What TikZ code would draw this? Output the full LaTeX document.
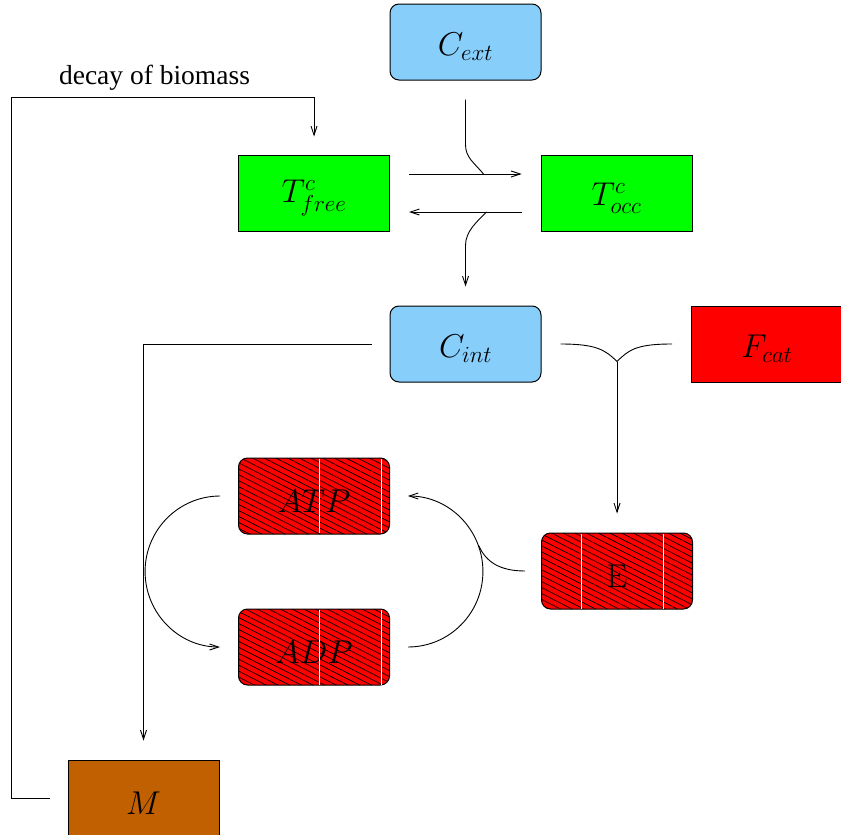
\RequirePackage{fix-cm}
\documentclass[tikz,border=0pt]{standalone}
\usepackage[no-math]{fontspec}
\newfontfamily\labelfont{Liberation Serif}
\usetikzlibrary{calc,patterns.meta,arrows.meta}
\definecolor{cblue}{HTML}{87CEFA}
\definecolor{mbrown}{HTML}{C06000}
\newcommand{\lowtext}[1]{\raisebox{-5pt}[\height][\depth]{#1}}
\begin{document}
\begin{tikzpicture}[x=1pt,y=-1pt,
 box/.style={draw=black,line width=1pt,minimum width=151pt,minimum height=76pt,inner sep=0pt,font=\fontsize{33}{39}\selectfont},
 rbox/.style={box,rounded corners=9pt},
 bluebox/.style={rbox,fill=cblue},
 greenbox/.style={box,fill=green},
 redbox/.style={box,fill=red},
 mbox/.style={box,fill=mbrown},
 hatchbox/.style={rbox,preaction={fill=red},pattern={Lines[angle=-27,distance=5.3pt,line width=0.7pt]},pattern color=black},
 conn/.style={line width=0.9pt,draw=black},
 arr/.style={conn,-{Straight Barb[length=9pt,width=6pt]}},
 seam/.style={draw=white,line width=0.8pt}
]
\useasboundingbox (0,0) rectangle (841,835);

% nodes
\node[bluebox] (cext) at (465.5,42) {\lowtext{$C_{ext}$}};
\node[greenbox] (tfree) at (314,193) {\lowtext{$T^c_{free}$}};
\node[greenbox] (tocc) at (616.5,193) {\lowtext{$T^c_{occ}$}};
\node[bluebox] (cint) at (465.5,344) {\lowtext{$C_{int}$}};
\node[redbox] (fcat) at (767,344) {\lowtext{$F_{cat}$}};
\node[hatchbox] (atp) at (314,496) {\lowtext{$ATP$}};
\node[hatchbox] (e) at (617,571) {\lowtext{$\mathrm{E}$}};
\node[hatchbox] (adp) at (314,647) {\lowtext{$ADP$}};
\node[mbox] (m) at (143.5,798) {\lowtext{$M$}};
\node[font=\labelfont\fontsize{27.5}{33}\selectfont,anchor=base,inner sep=0pt] (decay) at (154.5,84) {decay of biomass};

% seams in the hatching
\draw[seam] ($(atp.north west)+(81,1)$) -- ($(atp.south west)+(81,-1)$);
\draw[seam] ($(atp.north west)+(143,1)$) -- ($(atp.south west)+(143,-1)$);
\draw[seam] ($(adp.north west)+(81,1)$) -- ($(adp.south west)+(81,-1)$);
\draw[seam] ($(adp.north west)+(143,1)$) -- ($(adp.south west)+(143,-1)$);
\draw[seam] ($(e.north west)+(40,1)$) -- ($(e.south west)+(40,-1)$);
\draw[seam] ($(e.north west)+(122,1)$) -- ($(e.south west)+(122,-1)$);

% transporter
\coordinate (c1) at ($(cext.south)+(0,19)$);
\coordinate (j1) at ($(tocc.west)+(-57,-19)$);
\coordinate (j2) at ($(tocc.west)+(-54,19)$);
\draw[arr] ($(tfree.east)+(19,-19)$) -- ($(tocc.west)+(-19,-19)$);
\draw[arr] ($(tocc.west)+(-19,19)$) -- ($(tfree.east)+(19,19)$);
\draw[conn] (c1) -- ($(c1)+(0,45)$) .. controls +(0,13) and +(-10,-12) .. (j1);
\draw[arr] (j2) .. controls +(-10,10) and +(0,-14) .. ($(cint.north)+(0,-60)$) -- ($(cint.north)+(0,-19)$);

% decay of biomass
\draw[arr] ($(m.west)+(-18,0)$) -- ($(m.west)+(-56,0)$) |- ($(tfree.north)+(0,-57)$) -- ($(tfree.north)+(0,-18)$);

% C_int to M
\draw[arr] ($(cint.west)+(-18,0)$) -| ($(m.north)+(0,-19)$);

% C_int + F_cat -> E
\coordinate (y) at ($(e.north)+(0,-171)$);
\draw[conn] ($(cint.east)+(19,0)$) .. controls +(35,0) and +(-12,-12) .. (y);
\draw[conn] ($(fcat.west)+(-19,0)$) .. controls +(-35,0) and +(12,-12) .. (y);
\draw[arr] (y) -- ($(e.north)+(0,-19)$);

% ATP / ADP cycle
\coordinate (l1) at ($(atp.west)+(-18,0)$);
\coordinate (l2) at ($(adp.west)+(-18,0)$);
\coordinate (r1) at ($(adp.east)+(18,0)$);
\coordinate (r2) at ($(atp.east)+(18,0)$);
\draw[arr] (l1) .. controls +(-41.4,0) and +(0,-41.7) .. ($(l1)!0.5!(l2)+(-75,0)$) .. controls +(0,41.7) and +(-41.4,0) .. (l2);
\draw[arr] (r1) .. controls +(41.4,0) and +(0,41.7) .. ($(r1)!0.5!(r2)+(75,0)$) .. controls +(0,-41.7) and +(41.4,0) .. (r2);
\draw[conn] ($(e.west)+(-16,0)$) .. controls +(-25,0) and +(7,16) .. ($(e.west)+(-62,-25)$);
\end{tikzpicture}
\end{document}
